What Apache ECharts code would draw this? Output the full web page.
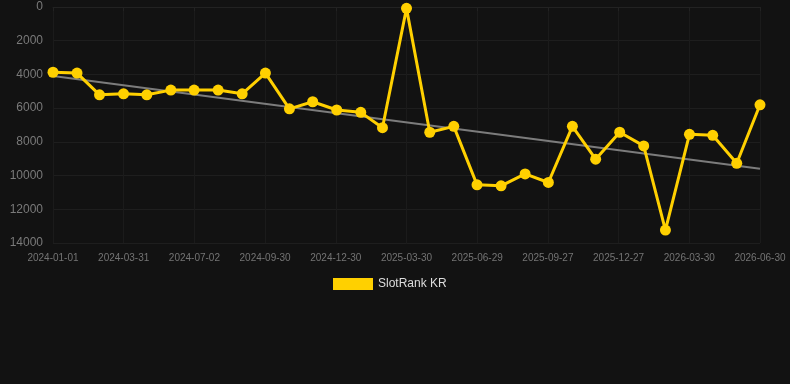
<!DOCTYPE html>
<html>
<head>
<meta charset="utf-8">
<script src="https://cdn.jsdelivr.net/npm/echarts@6/dist/echarts.min.js"></script>
<style>
  html, body { margin: 0; padding: 0; background: #121212; }
  #chart { width: 790px; height: 384px; }
</style>
</head>
<body>
<div id="chart"></div>
<script>
// monthly rank points
const dates = [
  '2024-01-01', '2024-02-01', '2024-03-01', '2024-04-01', '2024-05-01', '2024-06-01',
  '2024-07-01', '2024-08-01', '2024-09-01', '2024-10-01', '2024-11-01', '2024-12-01',
  '2025-01-01', '2025-02-01', '2025-03-01', '2025-04-01', '2025-05-01', '2025-06-01',
  '2025-07-01', '2025-08-01', '2025-09-01', '2025-10-01', '2025-11-01', '2025-12-01',
  '2026-01-01', '2026-02-01', '2026-03-01', '2026-04-01', '2026-05-01', '2026-06-01',
  '2026-07-01'
];
const rankValues = [
  3870, 3920, 5210, 5150, 5210, 4930, 4930, 4930, 5150, 3920,
  6040, 5620, 6110, 6250, 7160, 80, 7430, 7080, 10550, 10610,
  9900, 10410, 7080, 9030, 7430, 8240, 13230, 7550, 7610, 9270,
  5800
];
// trend line end values (first date, last date)
const trendValues = [4100, 9600];

const xTickLabels = [
  '2024-01-01', '2024-03-31', '2024-07-02', '2024-09-30', '2024-12-30', '2025-03-30',
  '2025-06-29', '2025-09-27', '2025-12-27', '2026-03-30', '2026-06-30'
];
const yTicks = [0, 2000, 4000, 6000, 8000, 10000, 12000, 14000];

const ts = (d) => new Date(d + 'T00:00:00Z').getTime();
const xMin = ts(dates[0]);
const xMax = ts(dates[dates.length - 1]);

const chart = echarts.init(document.getElementById('chart'));
chart.setOption({
  backgroundColor: '#121212',
  animation: false,
  textStyle: { fontFamily: 'Liberation Sans, Arial, sans-serif' },
  grid: { left: 53, right: 30, top: 7, bottom: 141, containLabel: false },
  legend: {
    data: [{ name: 'SlotRank KR', icon: 'rect' }],
    left: 328,
    top: 273,
    itemWidth: 40,
    itemHeight: 12,
    itemGap: 10,
    textStyle: { color: '#dddddd', fontSize: 12 }
  },
  xAxis: {
    type: 'value',
    min: xMin,
    max: xMax,
    interval: (xMax - xMin) / (xTickLabels.length - 1),
    axisLine: { show: true, lineStyle: { color: '#222222' } },
    axisTick: { show: true, length: 4, lineStyle: { color: '#222222' } },
    splitLine: { show: true, lineStyle: { color: '#1b1b1b' } },
    axisLabel: {
      color: '#747474',
      fontSize: 10,
      margin: 10,
      formatter: (v, i) => xTickLabels[i] || ''
    }
  },
  yAxis: {
    type: 'value',
    inverse: true,
    min: yTicks[0],
    max: yTicks[yTicks.length - 1],
    interval: 2000,
    axisLine: { show: false },
    axisTick: { show: false },
    splitLine: { show: true, lineStyle: { color: '#1e1e1e' } },
    axisLabel: { color: '#7a7a7a', fontSize: 12, margin: 10, formatter: (v) => String(v) }
  },
  series: [
    {
      name: 'SlotRank KR',
      type: 'line',
      data: dates.map((d, i) => [ts(d), rankValues[i]]),
      symbol: 'circle',
      symbolSize: 11,
      color: '#ffd000',
      lineStyle: { width: 3, color: '#ffd000' },
      itemStyle: { color: '#ffd000' },
      z: 3
    },
    {
      name: 'trend',
      type: 'line',
      data: [[xMin, trendValues[0]], [xMax, trendValues[1]]],
      symbol: 'none',
      lineStyle: { width: 2, color: '#7c7c7c' },
      z: 2
    }
  ]
});
</script>
</body>
</html>
